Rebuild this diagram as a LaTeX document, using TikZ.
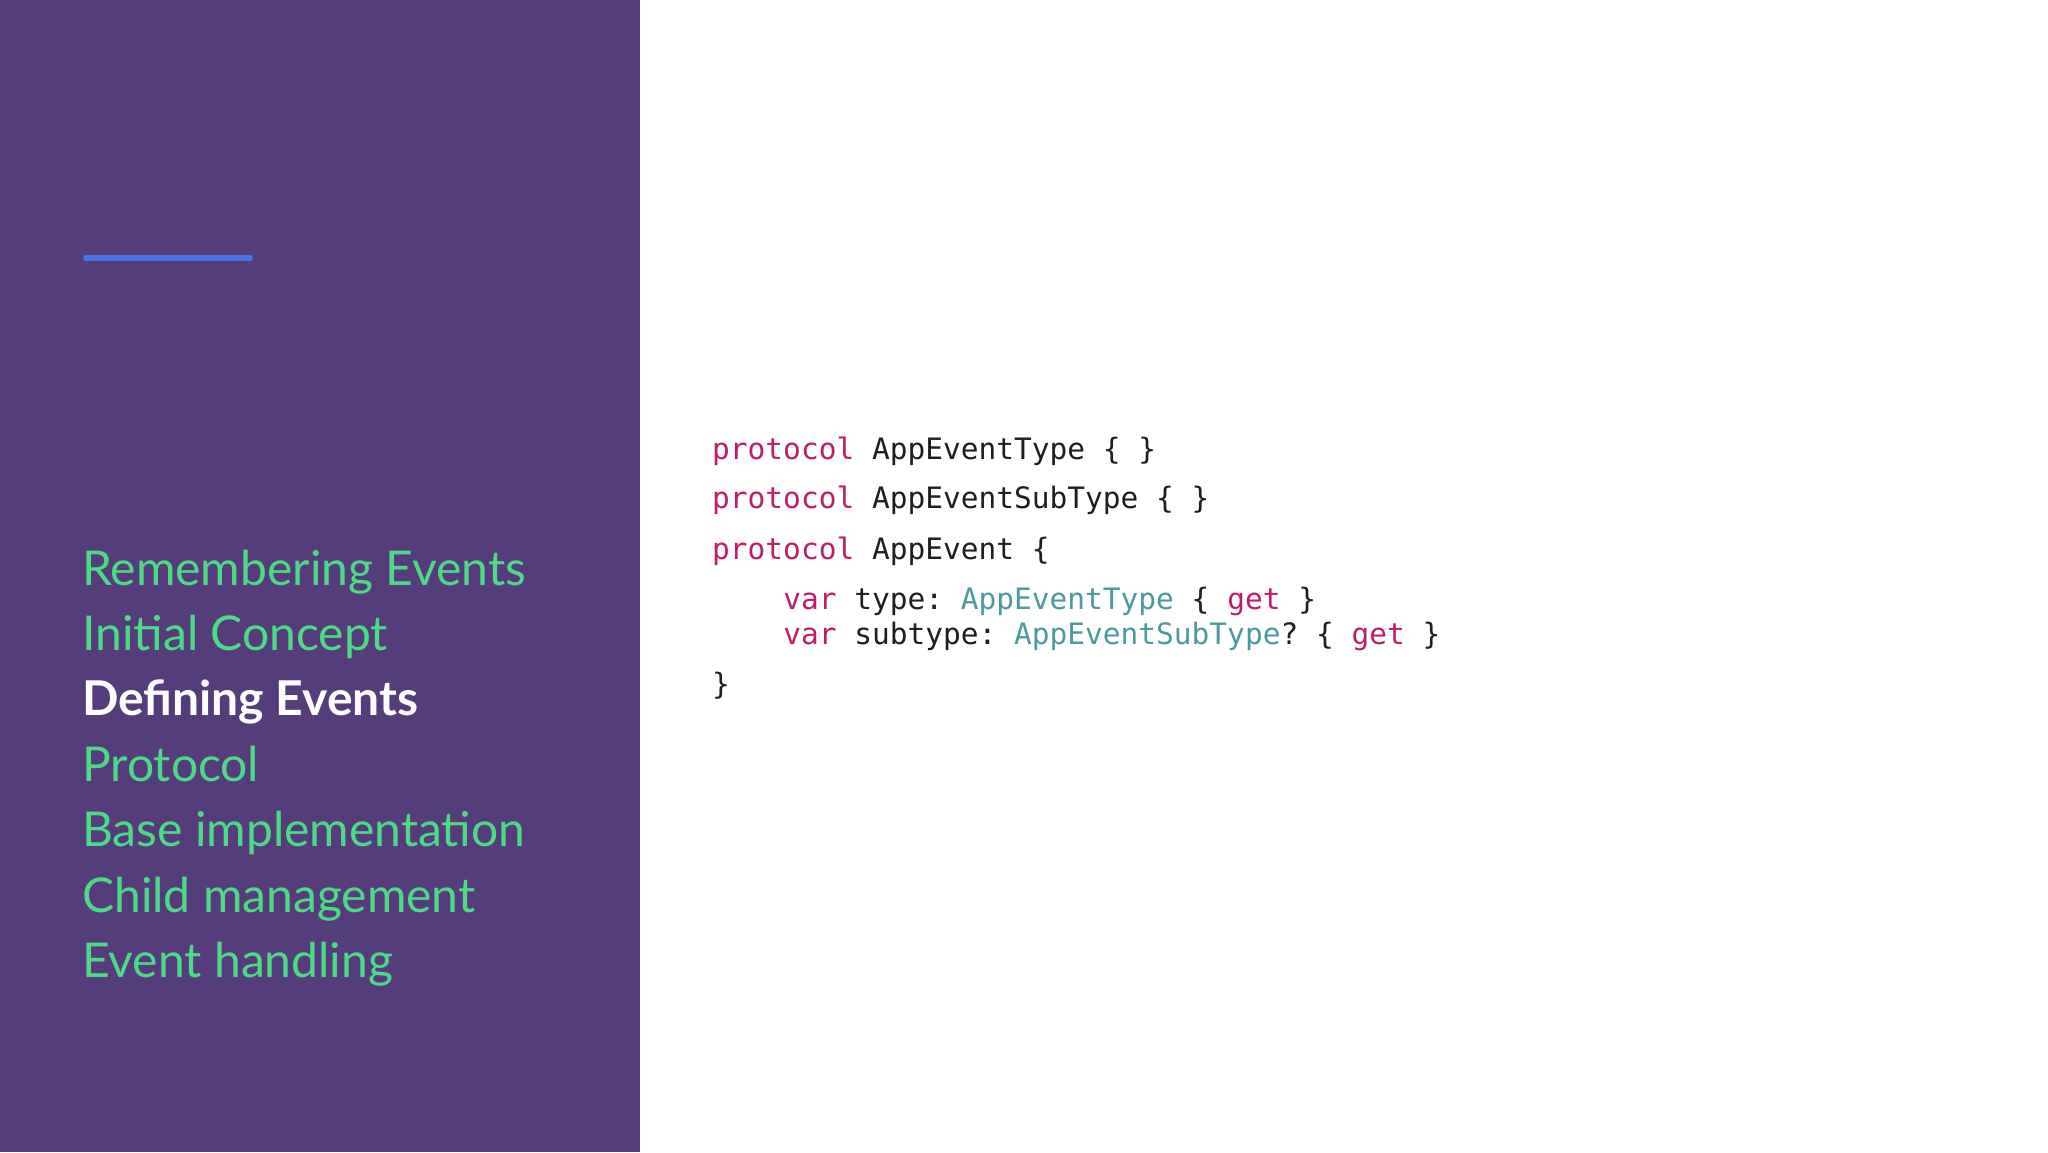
\documentclass[tikz,border=0pt]{standalone}
\usepackage{fontspec}
\setmainfont{Lato}
\setmonofont{DejaVu Sans Mono}
\definecolor{panel}{HTML}{553D7B}
\definecolor{menugreen}{HTML}{4CDB84}
\definecolor{bar}{HTML}{4A72EE}
\definecolor{kw}{HTML}{C01C68}
\definecolor{ty}{HTML}{4A9AA0}
\definecolor{txt}{HTML}{1E1E1E}
\tikzset{menu/.style={anchor=base west,inner sep=0pt,font=\fontsize{48}{48}\selectfont,text=menugreen},
code/.style={anchor=base west,inner sep=0pt,font=\ttfamily\fontsize{29.5}{29.5}\selectfont,text=txt}}
\newcommand{\kwd}[1]{\textcolor{kw}{#1}}
\newcommand{\typ}[1]{\textcolor{ty}{#1}}
\begin{document}
\begin{tikzpicture}[x=1pt,y=1pt]
\useasboundingbox (0,0) rectangle (2048,1152);
\fill[white] (0,0) rectangle (2048,1152);
\fill[panel] (0,0) rectangle (640,1152);
\draw[bar,line width=6pt,line cap=round] (86,894) -- (250,894);
\node[menu] (m1) at (82,566) {Remembering Events};
\node[menu] (m2) at (82,501) {Initial Concept};
\node[menu,text=white,font=\bfseries\fontsize{48}{48}\selectfont] (m3) at (82,436) {Defining Events};
\node[menu] (m4) at (82,370) {Protocol};
\node[menu] (m5) at (82,305) {Base implementation};
\node[menu] (m6) at (82,240) {Child management};
\node[menu] (m7) at (82,175) {Event handling};
\node[code] (c1) at (712,692) {\kwd{protocol} AppEventType \{ \}};
\node[code] (c2) at (712,643) {\kwd{protocol} AppEventSubType \{ \}};
\node[code] (c3) at (712,592) {\kwd{protocol} AppEvent \{};
\node[code] (c4) at (712,542) {\ \ \ \ \kwd{var} type: \typ{AppEventType} \{ \kwd{get} \}};
\node[code] (c5) at (712,507) {\ \ \ \ \kwd{var} subtype: \typ{AppEventSubType}? \{ \kwd{get} \}};
\node[code] (c6) at (712,457) {\}};
\end{tikzpicture}
\end{document}
